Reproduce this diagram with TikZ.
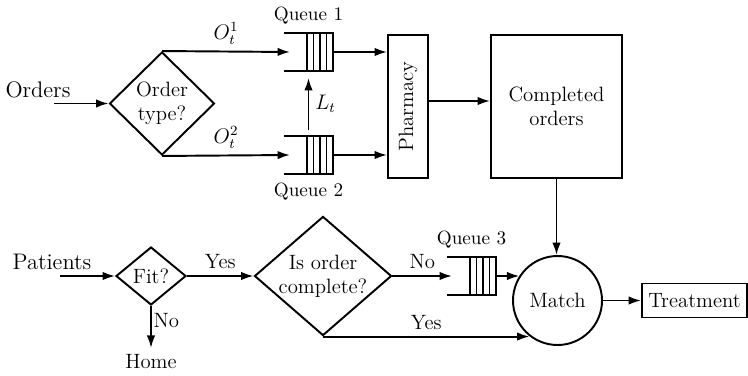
\documentclass[tikz,border=0pt]{standalone}
\usepackage{tikz}
\usetikzlibrary{arrows.meta,positioning,shapes.geometric,calc}

% open-ended queue with four slots
\newcommand{\queuebars}[1]{%
    \draw (#1.north west) -- (#1.north east) -- (#1.south east) -- (#1.south west);
    \foreach \k in {1,...,4}
        \draw ([xshift=-\k*1.3mm]#1.north east) -- ([xshift=-\k*1.3mm]#1.south east);
}

\begin{document}
\begin{tikzpicture}[
            line width=1.1pt,
            font=\fontsize{11.8}{13.5}\selectfont,
            box/.style={draw, rectangle, inner sep=2pt, align=center},
            decision/.style={draw, diamond, inner sep=0pt, align=center},
            queue/.style={minimum width=0.94cm, minimum height=0.72cm, inner sep=0pt},
            qlabel/.style={font=\fontsize{10.9}{13}\selectfont, label distance=1pt},
            source/.style={font=\fontsize{12.8}{15}\selectfont},
            arrow/.style={-{Latex[length=2.5mm, width=1.7mm]}},
        ]
        \useasboundingbox (0,0) rectangle (14.96,7.5);

        % orders side
        \node[source] (orders) at (0.76,5.70) {Orders};
        \coordinate (ordin) at (1.08,5.43);
        \node[decision, minimum width=2.1cm, minimum height=2.06cm] (otype) at (3.24,5.43) {Order\\type?};

        \node[queue, label={[qlabel]above:Queue 1}] (q1) at (6.17,6.46) {};
        \node[queue, label={[qlabel]below:Queue 2}] (q2) at (6.17,4.40) {};
        \queuebars{q1}
        \queuebars{q2}

        \node[box, minimum width=0.8cm, minimum height=2.86cm] (pharm) at (8.16,5.37) {\rotatebox{90}{Pharmacy}};
        \node[box, minimum width=2.62cm, minimum height=2.86cm] (done) at (11.13,5.37) {Completed\\orders};

        % patients side
        \node[source] (patients) at (1.04,2.26) {Patients};
        \coordinate (patin) at (1.2,1.98);
        \node[decision, aspect=1.2, minimum width=1.4cm, minimum height=1.16cm] (fit) at (3.02,1.98) {Fit?};
        \node (home) at (3.02,0.26) {Home};
        \node[decision, aspect=1.15, minimum width=2.74cm, minimum height=2.38cm] (isdone) at (6.46,1.98) {Is order\\complete?};

        \node[queue, label={[qlabel]above:Queue 3}] (q3) at (9.43,1.98) {};
        \queuebars{q3}

        \node[draw, circle, minimum size=1.78cm, inner sep=0pt] (match) at (11.15,1.49) {Match};
        \node[box, minimum width=2.1cm, minimum height=0.68cm] (treat) at (13.89,1.49) {Treatment};

        \draw[arrow] (ordin) -- (otype.west);
        \draw[arrow] (otype.north) -- node[above] {$O_t^1$} ([xshift=1.2mm]q1.west);
        \draw[arrow] (otype.south) -- node[above] {$O_t^2$} ([xshift=1.2mm]q2.west);
        \draw[arrow, shorten <=1.2mm, shorten >=1.4mm] (q2.north) -- node[right] {$L_t$} (q1.south);
        \draw[arrow] (q1.east) -- (q1.east -| pharm.west);
        \draw[arrow] (q2.east) -- (q2.east -| pharm.west);
        \draw[arrow] ([yshift=1.1mm]pharm.east) -- ([yshift=1.1mm]done.west);
        \draw[arrow] (done.south) -- (done.south |- match.north);

        \draw[arrow] (patin) -- (fit.west);
        \draw[arrow] (fit.east) -- node[above] {Yes} (isdone.west);
        \draw[arrow] (fit.south) -- node[right, pos=0.35, inner sep=1pt] {No} (fit.south |- home.north);
        \draw[arrow] (isdone.east) -- node[above] {No} ([xshift=1mm]q3.west);
        \draw[arrow] (q3.east) -- (q3.east -| match.147);
        \draw[arrow] (isdone.south) -- node[above] {Yes} (isdone.south -| match.232);
        \draw[arrow] (match.east) -- (treat.west);

    \end{tikzpicture}
\end{document}
